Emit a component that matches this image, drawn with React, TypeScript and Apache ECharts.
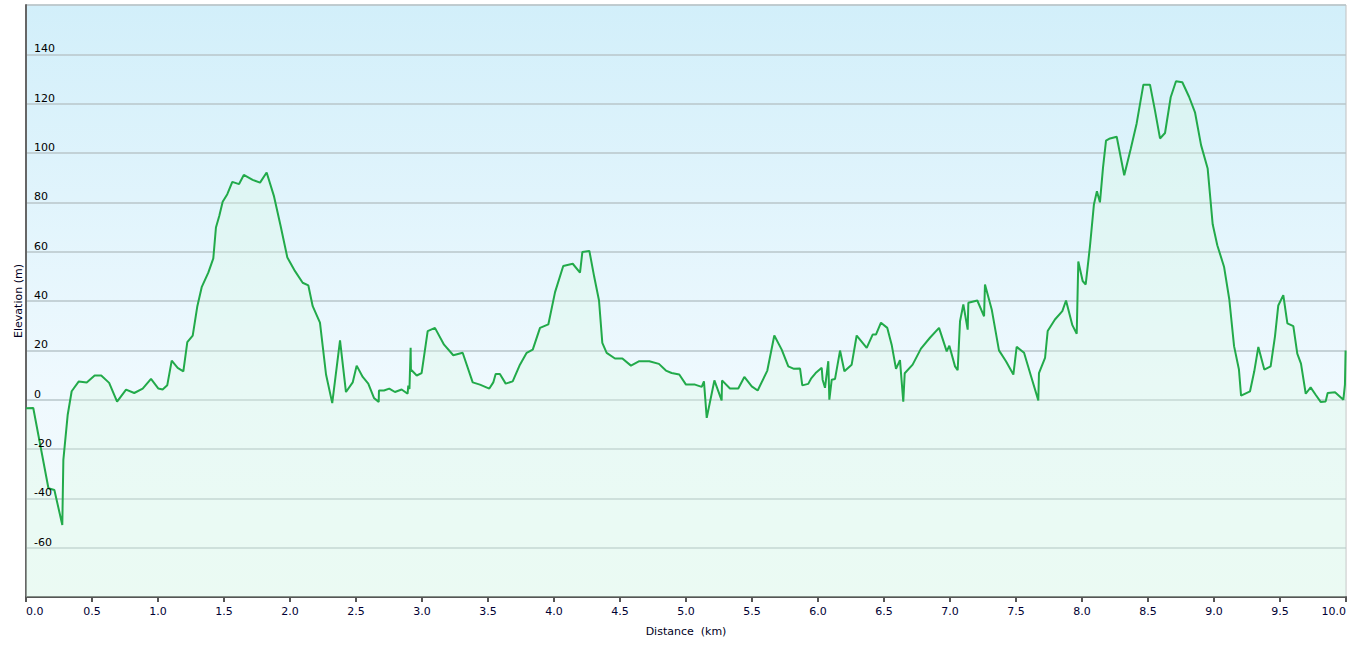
import React, { useEffect, useRef } from "react";
import * as echarts from "echarts";

const distanceKm = [
  0.0, 0.055, 0.17, 0.215, 0.275, 0.283, 0.316, 0.346, 0.4, 0.46, 0.52, 0.57, 0.63, 0.69, 0.758, 0.82, 0.884, 0.947,
  1.003, 1.035, 1.07, 1.104, 1.149, 1.192, 1.222, 1.263, 1.298, 1.331, 1.381, 1.419, 1.439, 1.464, 1.49, 1.525, 1.563,
  1.614, 1.65, 1.717, 1.773, 1.823, 1.879, 1.929, 1.98, 2.038, 2.096, 2.139, 2.172, 2.227, 2.273, 2.32, 2.379, 2.424,
  2.475, 2.505, 2.551, 2.593, 2.636, 2.672, 2.674, 2.712, 2.752, 2.795, 2.846, 2.891, 2.896, 2.905, 2.914, 2.916, 2.96,
  2.997, 3.043, 3.098, 3.167, 3.237, 3.308, 3.384, 3.439, 3.51, 3.54, 3.558, 3.59, 3.634, 3.687, 3.742, 3.793, 3.839,
  3.894, 3.957, 4.008, 4.07, 4.142, 4.197, 4.215, 4.268, 4.305, 4.341, 4.366, 4.399, 4.462, 4.518, 4.583, 4.646, 4.722,
  4.795, 4.848, 4.891, 4.949, 5.0, 5.068, 5.119, 5.136, 5.157, 5.215, 5.27, 5.273, 5.333, 5.396, 5.442, 5.498, 5.543,
  5.616, 5.669, 5.725, 5.775, 5.818, 5.864, 5.881, 5.926, 5.947, 5.982, 6.028, 6.035, 6.053, 6.078, 6.086, 6.104, 6.129,
  6.167, 6.2, 6.255, 6.293, 6.369, 6.414, 6.439, 6.477, 6.525, 6.558, 6.591, 6.621, 6.646, 6.657, 6.717, 6.78, 6.848,
  6.917, 6.975, 6.995, 7.038, 7.058, 7.076, 7.101, 7.134, 7.139, 7.207, 7.258, 7.265, 7.316, 7.371, 7.424, 7.48, 7.505,
  7.561, 7.614, 7.669, 7.674, 7.72, 7.74, 7.795, 7.851, 7.879, 7.927, 7.96, 7.972, 8.005, 8.028, 8.06, 8.09, 8.113,
  8.136, 8.159, 8.182, 8.212, 8.263, 8.32, 8.369, 8.414, 8.465, 8.515, 8.553, 8.591, 8.629, 8.672, 8.712, 8.76, 8.811,
  8.856, 8.902, 8.952, 8.99, 9.025, 9.076, 9.116, 9.152, 9.189, 9.205, 9.273, 9.305, 9.336, 9.381, 9.429, 9.462, 9.487,
  9.525, 9.556, 9.601, 9.631, 9.659, 9.695, 9.732, 9.77, 9.808, 9.846, 9.861, 9.917, 9.98, 9.992, 9.997,
];

const elevationM = [
  -3.5, -3.4, -35.9, -36.6, -50.8, -24.4, -6.1, 3.4, 7.4, 7.0, 9.8, 9.8, 6.8, -0.8, 4.1, 2.7, 4.5, 8.4,
  4.5, 4.1, 5.8, 15.8, 12.9, 11.5, 23.3, 26.0, 37.9, 45.6, 51.5, 57.3, 69.8, 74.5, 80.2, 83.3, 88.3,
  87.4, 91.1, 89.1, 88.0, 92.1, 82.4, 70.4, 57.6, 52.1, 47.4, 46.3, 37.9, 31.2, 10.2, -1.4, 24.0, 3.1,
  7.0, 13.8, 9.2, 6.5, 0.7, -0.9, 3.7, 3.7, 4.5, 3.1, 4.1, 2.4, 5.7, 4.3, 21.0, 12.2, 9.8,
  10.8, 27.8, 29.1, 22.3, 18.0, 19.0, 7.0, 6.1, 4.5, 7.0, 10.4, 10.4, 6.5, 7.4, 14.2, 19.0, 20.3,
  29.1, 30.5, 43.6, 54.2, 55.1, 51.5, 59.9, 60.3, 49.7, 40.2, 23.0, 19.0, 16.7, 16.7, 13.8, 15.6, 15.6,
  14.5, 11.8, 10.8, 10.2, 6.1, 6.1, 5.2, 7.4, -7.4, 7.8, -0.3, 7.8, 4.5, 4.5, 9.2, 5.4, 3.7,
  11.8, 26.0, 20.3, 13.5, 12.5, 12.6, 5.8, 6.4, 8.5, 10.8, 12.9, 8.1, 4.8, 15.6, 0.0, 8.1, 8.4,
  19.9, 11.5, 14.2, 26.0, 21.0, 26.4, 26.4, 31.2, 29.1, 22.3, 12.5, 16.0, -0.8, 10.7, 14.2, 20.7, 25.1,
  29.1, 19.6, 21.9, 13.5, 11.9, 31.8, 38.6, 28.4, 39.3, 40.2, 33.8, 46.7, 36.6, 20.0, 15.6, 10.2, 21.4,
  19.0, 9.5, -0.3, 10.8, 16.9, 27.8, 32.5, 35.9, 40.2, 30.2, 26.7, 56.0, 48.1, 46.7, 62.0, 79.0, 84.5,
  80.0, 94.0, 105.0, 105.9, 106.6, 91.0, 101.6, 112.0, 127.7, 127.7, 117.2, 105.9, 108.1, 122.6, 129.1, 128.7, 122.8,
  116.5, 103.2, 93.7, 71.1, 62.6, 53.9, 40.6, 21.7, 12.2, 1.6, 3.4, 11.5, 21.4, 12.2, 13.5, 25.7, 38.2,
  42.4, 30.9, 29.8, 18.7, 14.6, 2.4, 5.0, 2.0, -0.9, -0.7, 2.7, 3.0, 0.0, 6.1, 19.9,
];

const FONT = "DejaVu Sans";
const Y_MIN = -80;
const Y_MAX = 160;
const Y_STEP = 20;

export default function App() {
  const ref = useRef<HTMLDivElement>(null);

  useEffect(() => {
    if (!ref.current) return;
    const chart = echarts.init(ref.current, null, { renderer: "svg" });
    const data = distanceKm.map((d, i) => [d, elevationM[i]]);
    chart.setOption({
      animation: false,
      grid: {
        left: 26,
        top: 5,
        right: 6,
        bottom: 49,
        show: true,
        borderColor: "#c0c0c0",
        borderWidth: 1,
        backgroundColor: new echarts.graphic.LinearGradient(0, 0, 0, 1, [
          { offset: 0, color: "#d2effa" },
          { offset: 0.65, color: "#eff9fe" },
          { offset: 1, color: "#f3fbfb" },
        ]),
      },
      xAxis: {
        type: "value",
        min: 0,
        max: 10,
        interval: 0.5,
        axisLine: { show: true, onZero: false, lineStyle: { color: "#555", width: 2 } },
        axisTick: { show: true, length: 5, lineStyle: { color: "#555", width: 2 } },
        axisLabel: {
          formatter: (v: number) => v.toFixed(1),
          color: "#000033",
          fontFamily: FONT,
          fontSize: 11,
          margin: 9,
          alignMinLabel: "left",
          alignMaxLabel: "right",
        },
        splitLine: { show: false },
        name: "Distance  (km)",
        nameLocation: "middle",
        nameGap: 29,
        nameTextStyle: { color: "#000022", fontFamily: FONT, fontSize: 11 },
      },
      yAxis: [
        {
          type: "value",
          min: Y_MIN,
          max: Y_MAX,
          interval: Y_STEP,
          axisLine: { show: true, lineStyle: { color: "#666", width: 2 } },
          axisTick: { show: false },
          axisLabel: { show: false },
          splitLine: { show: true, lineStyle: { color: "#b9c6ca", width: 1.5 } },
          name: "Elevation (m)",
          nameLocation: "middle",
          nameGap: 2,
          nameTextStyle: { color: "#000022", fontFamily: FONT, fontSize: 11 },
        },
        {
          type: "value",
          position: "left",
          min: Y_MIN,
          max: Y_MAX,
          interval: Y_STEP,
          z: 10,
          axisLine: { show: false },
          axisTick: { show: false },
          splitLine: { show: false },
          axisLabel: {
            inside: true,
            margin: 8,
            verticalAlign: "bottom",
            showMinLabel: false,
            showMaxLabel: false,
            color: "#000",
            fontFamily: FONT,
            fontSize: 11,
          },
        },
      ],
      series: [
        {
          type: "line",
          data,
          yAxisIndex: 0,
          symbol: "none",
          showSymbol: false,
          lineStyle: { color: "#22aa4a", width: 2 },
          areaStyle: { color: "rgba(222,250,230,0.5)", origin: "start" },
          z: 3,
        },
      ],
    });
    return () => chart.dispose();
  }, []);

  return (
    <div
      ref={ref}
      style={{ position: "absolute", left: 0, top: 0, width: 1352, height: 646 }}
    />
  );
}
